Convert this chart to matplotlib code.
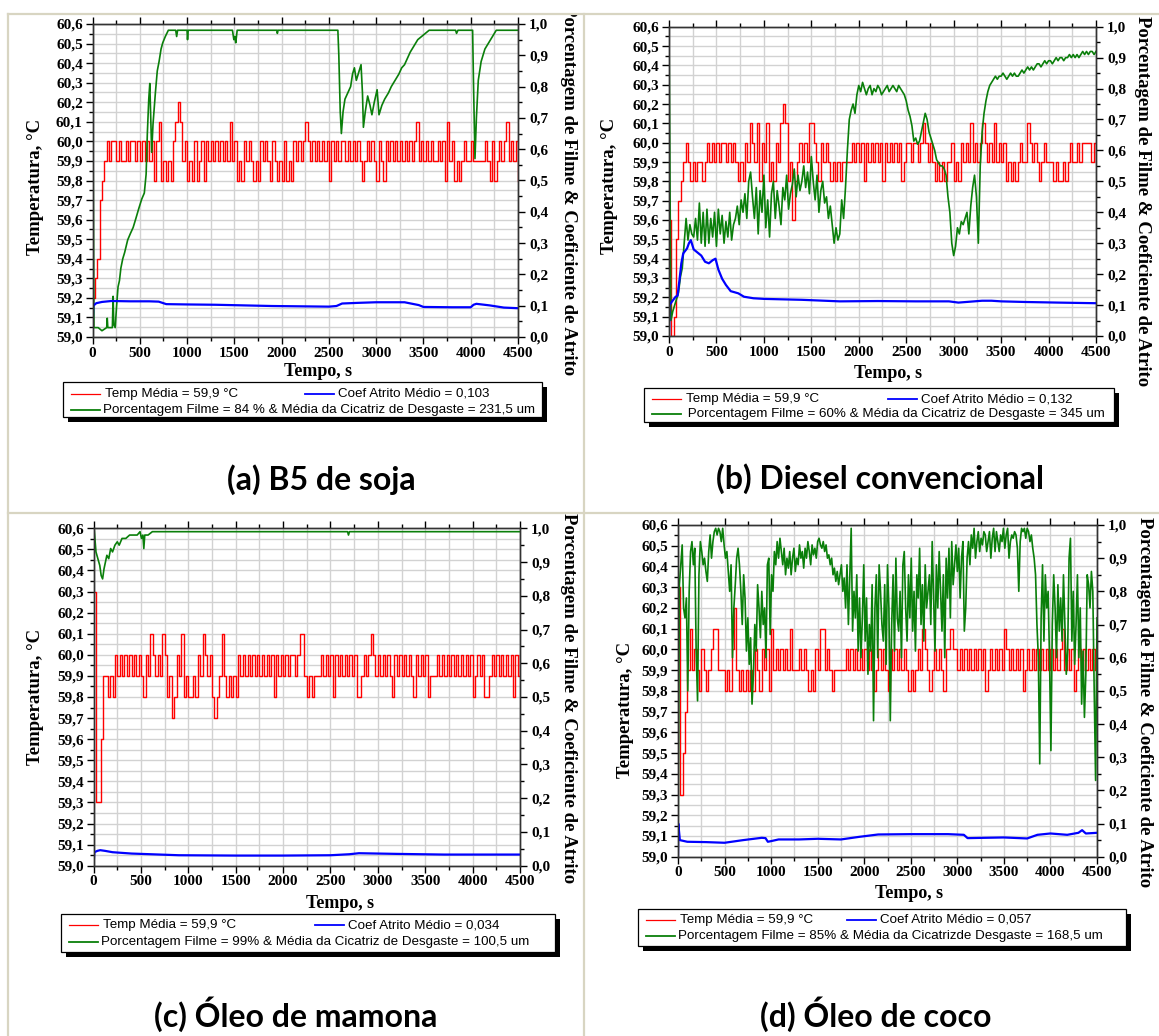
import numpy as np
import matplotlib
matplotlib.use("Agg")
import matplotlib.pyplot as plt
from matplotlib.patches import Rectangle
from matplotlib.ticker import MultipleLocator, FuncFormatter

W, H = 1159, 1036

# temperature readings every 25 s, in tenths of a degree (599 -> 59,9 C)
TEMP_STEP = 25
temp_a = [592, 593, 594, 597, 598, 599,
          600, 599, 600, 600, 599, 600, 599, 599, 600, 599, 600, 600, 599, 600, 599, 600, 599, 600, 599, 600,
          598, 600, 601, 598, 599, 598, 599, 598, 600, 601, 602, 601, 599, 600, 598, 599, 598, 600, 598, 599,
          600, 598, 600, 599, 600, 599, 600, 599, 600, 599, 600, 599, 601, 599, 600, 598, 599, 598, 600, 599,
          600, 599, 598, 599, 598, 600, 599, 600, 599, 598, 600, 599, 598, 599, 598, 600, 598, 599, 598, 600,
          599, 600, 599, 600, 601, 600, 599, 600, 599, 600, 599, 600, 599, 600, 598, 600, 599, 600, 599, 600,
          600, 599, 600, 599, 600, 599, 600, 599, 598, 599, 600, 599, 600, 599, 598, 600, 599, 598, 600, 599,
          600, 599, 600, 599, 600, 599, 600, 599, 600, 599, 600, 601, 599, 600, 599, 600, 599, 600, 599, 599,
          600, 599, 600, 598, 601, 599, 600, 598, 599, 598, 599, 600, 599, 599, 600, 599, 599, 599, 599, 599,
          600, 599, 598, 600, 598, 599, 600, 599, 600, 601, 599, 600, 599, 600, 598]
temp_b = [596, 590, 591, 595, 597, 598,
          599, 600, 599, 598, 599, 598, 599, 599, 598, 599, 600, 599, 600, 599, 600, 599, 600, 600, 599, 600,
          599, 600, 599, 598, 599, 598, 600, 599, 601, 600, 599, 601, 598, 600, 599, 601, 598, 599, 598, 600,
          599, 601, 602, 601, 598, 599, 596, 598, 599, 600, 599, 600, 599, 601, 601, 600, 599, 598, 600, 599,
          600, 599, 598, 599, 598, 599, 598, 599, 599, 599, 599, 600, 599, 600, 599, 600, 598, 600, 599, 600,
          599, 600, 599, 600, 598, 600, 599, 600, 599, 600, 599, 600, 598, 599, 600, 600, 599, 600, 600, 599,
          600, 601, 600, 599, 600, 599, 598, 599, 598, 599, 598, 599, 599, 600, 598, 599, 598, 600, 599, 600,
          599, 601, 599, 600, 599, 600, 601, 600, 599, 600, 599, 601, 599, 600, 599, 600, 598, 599, 598, 599,
          598, 599, 600, 599, 599, 601, 600, 599, 600, 599, 598, 599, 600, 599, 599, 599, 598, 599, 598, 598,
          599, 598, 599, 600, 599, 599, 600, 599, 600, 600, 600, 600, 599, 600, 599]
temp_c = [603, 593, 593, 596, 599, 599,
          598, 599, 598, 600, 599, 600, 599, 600, 599, 600, 599, 600, 599, 600, 599, 598, 600, 599, 601, 600,
          599, 600, 599, 601, 600, 598, 599, 597, 598, 600, 599, 601, 598, 599, 598, 598, 599, 598, 600, 599,
          601, 600, 599, 600, 598, 597, 598, 599, 601, 599, 598, 599, 598, 599, 598, 600, 599, 600, 599, 600,
          599, 600, 599, 600, 599, 600, 599, 600, 599, 600, 598, 600, 599, 600, 599, 600, 599, 600, 600, 599,
          600, 601, 601, 599, 598, 599, 598, 599, 599, 599, 600, 599, 600, 599, 600, 598, 600, 599, 600, 599,
          600, 599, 600, 599, 600, 598, 598, 599, 600, 599, 600, 601, 600, 599, 600, 599, 600, 599, 600, 599,
          598, 600, 599, 600, 599, 600, 599, 600, 599, 598, 600, 599, 600, 599, 600, 598, 599, 599, 599, 600,
          599, 600, 599, 600, 599, 600, 599, 600, 599, 600, 599, 600, 599, 600, 598, 599, 600, 599, 600, 598,
          598, 599, 600, 599, 600, 599, 600, 599, 600, 599, 600, 598, 600, 599, 600]
temp_d = [603, 593, 595, 597, 599, 601,
          599, 600, 599, 598, 600, 599, 598, 599, 600, 601, 601, 599, 599, 599, 598, 599, 598, 600, 602, 599,
          598, 599, 598, 599, 598, 599, 598, 600, 599, 598, 600, 599, 600, 598, 601, 599, 600, 599, 600, 599,
          600, 599, 601, 599, 599, 599, 600, 599, 600, 599, 598, 599, 598, 600, 599, 601, 601, 599, 600, 599,
          598, 599, 599, 599, 599, 599, 600, 599, 600, 599, 600, 599, 600, 599, 600, 599, 600, 599, 598, 599,
          600, 599, 600, 599, 598, 600, 599, 600, 599, 600, 599, 600, 599, 598, 599, 598, 599, 600, 599, 601,
          600, 599, 598, 599, 600, 599, 600, 599, 598, 600, 600, 601, 600, 600, 599, 600, 599, 600, 599, 600,
          599, 600, 599, 600, 599, 600, 598, 599, 600, 599, 600, 599, 600, 599, 601, 600, 599, 600, 599, 600,
          599, 600, 598, 599, 600, 599, 600, 599, 600, 599, 600, 599, 600, 599, 600, 599, 600, 599, 600, 601,
          599, 600, 599, 600, 598, 599, 600, 599, 600, 599, 600, 599, 600, 599, 599]

# film percentage (%), panels a and c read at irregular times (s)
film_a_t = [0, 15, 60, 100, 150, 156, 162, 210, 218, 225, 240, 255, 270, 285, 300, 320, 340, 372, 400, 430,
            460, 489, 520, 548, 567, 580, 595, 606, 616, 626, 640, 665, 685, 704, 725, 743, 770, 802, 880, 890,
            900, 1000, 1005, 1012, 1480, 1495, 1505, 1515, 1530, 1950, 1955, 1962, 2595, 2605, 2620, 2632, 2650,
            2670, 2700, 2730, 2750, 2770, 2790, 2810, 2840, 2855, 2865, 2885, 2910, 2935, 2955, 2980, 3010, 3030,
            3060, 3090, 3130, 3160, 3200, 3240, 3270, 3300, 3330, 3360, 3400, 3440, 3480, 3520, 3560, 3840, 3850,
            3865, 4020, 4030, 4045, 4060, 4080, 4110, 4150, 4190, 4230, 4270, 4500]
film_a = [100, 3, 3, 2, 3, 6, 3, 3, 13, 4, 3, 10, 16, 18, 22, 25, 27, 31, 33, 35,
          38, 41, 44, 46, 52, 65, 76, 81, 70, 59, 68, 78, 85, 88, 92, 94, 96, 98, 98, 96,
          98, 98, 95, 98, 98, 95, 96, 94, 98, 98, 97, 98, 98, 90, 72, 65, 72,
          76, 78, 80, 84, 86, 82, 84, 87, 78, 67, 72, 77, 74, 71, 75, 79, 71,
          74, 76, 78, 80, 82, 84, 86, 87, 89, 91, 93, 95, 96, 97, 98, 98, 97,
          98, 98, 80, 57, 70, 82, 88, 92, 94, 96, 98, 98]
film_c_t = [0, 5, 25, 45, 65, 80, 95, 110, 125, 140, 160, 180, 200, 225, 250, 270, 300, 340, 380, 420,
            460, 490, 505, 520, 530, 540, 575, 620, 680, 2680, 2690, 2700, 4500]
film_c = [99, 100, 93, 91, 89, 86, 85, 88, 90, 92, 91, 94, 93, 95, 96, 95, 97, 97, 98, 98,
          98, 99, 97, 98, 94, 98, 98, 99, 99, 99, 98, 99, 99]

# film percentage (%), panels b and d read on a regular grid
FILM_B_STEP = 20
film_b = [100, 5, 8, 10, 12, 14, 19, 22, 30, 38, 31, 36, 33, 32, 38, 31, 43, 30, 40, 29,
          41, 30, 38, 32, 40, 29, 41, 33, 39, 30, 37, 32, 40, 31, 36,
          38, 42, 36, 44, 40, 46, 38, 50, 53, 45,
          38, 48, 33, 47, 40, 52, 35, 44, 32, 46, 50, 38, 47, 42, 36, 48, 44, 52, 41, 46,
          49, 54, 45, 52, 47, 50, 55, 48, 53, 46, 58, 50, 44, 52, 40, 47, 50, 43, 45, 38,
          42, 36, 30, 35, 31, 33, 44, 38, 48, 60,
          70, 73, 75, 72, 78, 81, 79, 82, 80, 78,
          80, 81, 78, 80, 79, 81, 80, 78, 79, 80, 81, 79, 80, 81, 80, 79, 81, 80, 79, 78,
          76, 73, 71, 68, 63, 64, 62, 63, 66, 69,
          72, 70, 66, 64, 62, 60, 57, 56, 55, 55,
          54, 52, 45, 40, 30, 26, 29, 35, 33, 37,
          36, 38, 40, 33, 42, 48, 52, 45, 30, 55,
          66, 72, 76, 79, 81, 82, 83, 84, 83, 84,
          84, 85, 84, 83, 84, 85, 84, 85, 84, 84, 85, 86, 85, 86, 87, 86, 87, 86, 87, 88,
          88, 87, 88, 89, 88, 89, 89, 88, 89, 90, 89, 90, 90, 89, 90, 90, 91, 90, 91, 90,
          91, 90, 91, 92, 91, 92, 91, 92, 92, 91, 92]
FILM_D_STEP = 15
film_d = [0, 82, 88, 94, 75, 72, 78, 50, 80, 92, 95, 88, 93, 62, 47, 85, 95, 92, 88, 90,
          86, 83, 92, 97, 90, 95, 98, 99, 97, 99, 98, 95, 99, 94, 90, 92, 86, 80, 88, 60,
          75, 82, 90, 93, 88, 80, 70, 85, 78, 62, 72, 58, 66, 46, 55, 70, 62, 82, 75, 66,
          80, 70, 75, 60, 88, 90, 67, 85, 80, 92, 88, 95, 90, 96, 92, 88, 93, 85, 90, 87,
          92, 85, 90, 93, 86, 90, 88, 94, 90, 92, 87, 93, 90, 95, 92, 88, 94, 91, 93, 90,
          95, 96, 94, 93, 95, 92, 94, 90, 91, 88, 90, 85, 87, 83, 86, 82, 85, 88, 80, 84,
          75, 88, 70, 85, 99, 68, 80, 72, 85, 62, 78, 60, 72, 88, 65, 78, 55, 70, 62, 82,
          41, 75, 85, 60, 88, 80, 70, 65, 82, 58, 88, 75, 41, 70, 85, 62, 90, 72, 68, 80,
          60, 88, 92, 75, 65, 85, 72, 90, 68, 80, 62, 85, 78, 93, 70, 82, 65, 88, 75, 80,
          85, 70, 95, 78, 62, 88, 75, 92, 80, 68, 85, 60, 90, 78, 93, 72, 95, 82, 88, 94,
          86, 93, 78, 90, 95, 68, 75, 90, 95, 88, 97, 93, 99, 90, 95, 98, 92, 96, 94, 98,
          97, 92, 95, 98, 90, 96, 99, 92, 98, 95, 92, 97, 95, 99, 93, 97, 99, 90, 95, 97,
          96, 98, 97, 93, 80, 95, 99, 98, 99, 96, 99, 98, 95, 97, 93, 90, 85, 70, 60, 28,
          72, 88, 65, 85, 75, 80, 60, 32, 70, 85, 75, 60, 82, 68, 78, 65, 85, 70, 55, 62,
          90, 96, 65, 80, 58, 70, 85, 60, 75, 46, 62, 42, 55, 85, 82, 75, 86, 80, 50, 23,
          72]

# friction coefficient
cof_a_t = [0, 8, 40, 100, 200, 400, 600, 700, 780, 1000, 1300, 1600, 1900, 2200, 2500, 2580, 2640, 2800,
           3000, 3300, 3450, 3500, 3800, 4000, 4030, 4060, 4200, 4350, 4500]
cof_a = [0.01, 0.10, 0.108, 0.112, 0.115, 0.114, 0.114, 0.113, 0.105, 0.104, 0.103, 0.101, 0.099, 0.098,
         0.097, 0.099, 0.107, 0.109, 0.111, 0.111, 0.102, 0.096, 0.095, 0.095, 0.103, 0.106, 0.101, 0.094, 0.092]
cof_b_t = [0, 5, 40, 70, 90, 110, 130, 150, 190, 210, 230, 260, 300, 340, 380, 420, 460, 490, 520, 560,
           600, 650, 730, 790, 890, 1000, 1400, 1800, 2200, 2600, 2950, 3050, 3300, 3400, 3500, 3750, 4100, 4500]
cof_b = [0.0, 0.10, 0.115, 0.127, 0.13, 0.18, 0.235, 0.267, 0.283, 0.30, 0.31, 0.28, 0.27, 0.26, 0.24,
         0.235, 0.245, 0.25, 0.215, 0.185, 0.165, 0.145, 0.138, 0.127, 0.122, 0.12, 0.117, 0.112, 0.113,
         0.112, 0.112, 0.108, 0.114, 0.114, 0.112, 0.11, 0.108, 0.106]
cof_c_t = [0, 8, 40, 70, 120, 200, 400, 600, 900, 1500, 2000, 2500, 2700, 2800, 3000, 3200, 3700, 4500]
cof_c = [0.005, 0.04, 0.044, 0.046, 0.044, 0.04, 0.036, 0.034, 0.031, 0.03, 0.03, 0.031, 0.034, 0.037,
         0.036, 0.035, 0.033, 0.033]
cof_d_t = [0, 3, 20, 100, 300, 500, 600, 700, 900, 940, 965, 1000, 1080, 1300, 1500, 1750, 1950, 2150,
           2500, 2900, 3070, 3110, 3300, 3500, 3750, 3860, 4000, 4180, 4300, 4340, 4380, 4500]
cof_d = [0.005, 0.10, 0.05, 0.045, 0.044, 0.042, 0.046, 0.05, 0.057, 0.056, 0.045, 0.047, 0.052, 0.052,
         0.054, 0.052, 0.06, 0.067, 0.068, 0.068, 0.066, 0.056, 0.057, 0.058, 0.055, 0.066, 0.07, 0.066,
         0.072, 0.08, 0.07, 0.072]

legend_a = ["Temp Média = 59,9 °C", "Coef Atrito Médio = 0,103",
            "Porcentagem Filme = 84 % & Média da Cicatriz de Desgaste = 231,5 um"]
legend_b = ["Temp Média = 59,9 °C", "Coef Atrito Médio = 0,132",
            " Porcentagem Filme = 60% & Média da Cicatriz de Desgaste = 345 um"]
legend_c = ["Temp Média = 59,9 °C", "Coef Atrito Médio = 0,034",
            "Porcentagem Filme = 99% & Média da Cicatriz de Desgaste = 100,5 um"]
legend_d = ["Temp Média = 59,9 °C", "Coef Atrito Médio = 0,057",
            "Porcentagem Filme = 85% & Média da Cicatrizde Desgaste = 168,5 um"]
captions = ["(a) B5 de soja", "(b) Diesel convencional", "(c) Óleo de mamona", "(d) Óleo de coco"]

SERIF = "Liberation Serif"
SANS = "Liberation Sans"
RED, BLUE, GREEN = "#ff0000", "#0000ff", "#0a7f0a"
BORDER = "#d8d5c2"


def comma(v, pos):
    return f"{v:.1f}".replace(".", ",")


fig = plt.figure(figsize=(W / 100, H / 100), dpi=100)
ov = fig.add_axes([0, 0, 1, 1])
ov.set_xlim(0, W)
ov.set_ylim(H, 0)
ov.axis("off")
ov.set_zorder(10)


def panel(box, temp, film_t, film, cof_t, cof, ylab, y2lab, xlab):
    l, r, t, b = box
    ax = fig.add_axes([l / W, 1 - b / H, (r - l) / W, (b - t) / H])
    ax.set_xlim(0, 4500)
    ax.set_ylim(59.0, 60.6)
    ax.xaxis.set_major_locator(MultipleLocator(500))
    ax.xaxis.set_minor_locator(MultipleLocator(250))
    ax.yaxis.set_major_locator(MultipleLocator(0.1))
    ax.yaxis.set_minor_locator(MultipleLocator(0.05))
    ax.yaxis.set_major_formatter(FuncFormatter(comma))
    ax.grid(which="both", color="#d2d2d2", lw=1.0)
    ax.set_axisbelow(True)
    ax.tick_params(which="both", direction="out", top=True, width=1, labelsize=11)
    ax.tick_params(which="major", length=5)
    ax.tick_params(which="minor", length=3)
    ax.tick_params(axis="y", pad=2)
    ax.tick_params(axis="x", pad=2)

    tt = np.arange(len(temp)) * TEMP_STEP
    ax.step(tt, np.array(temp) / 10.0, where="post", color=RED, lw=1.0)

    ax2 = ax.twinx()
    ax2.set_ylim(0, 1)
    ax2.yaxis.set_major_locator(MultipleLocator(0.1))
    ax2.yaxis.set_minor_locator(MultipleLocator(0.05))
    ax2.yaxis.set_major_formatter(FuncFormatter(comma))
    ax2.tick_params(which="both", direction="out", width=1, labelsize=11, pad=3)
    ax2.tick_params(which="major", length=5)
    ax2.tick_params(which="minor", length=3)
    ax2.plot(film_t, np.array(film) / 100.0, color=GREEN, lw=1.2)
    ax2.plot(cof_t, cof, color=BLUE, lw=1.6)

    for a in (ax, ax2):
        for sp in a.spines.values():
            sp.set_linewidth(1.0)
            sp.set_color("#333333")
        for lab in a.get_xticklabels() + a.get_yticklabels():
            lab.set_fontfamily(SERIF)
            lab.set_fontweight("bold")

    ov.text(ylab[0], ylab[1], "Temperatura, °C", rotation=90, ha="center", va="center",
            family=SERIF, weight="bold", fontsize=13.5)
    ov.text(y2lab[0], y2lab[1], "Porcentagem de Filme & Coeficiente de Atrito", rotation=-90,
            ha="center", va="center", family=SERIF, weight="bold", fontsize=13.5)
    ov.text(xlab[0], xlab[1], "Tempo, s", ha="center", va="center", family=SERIF, weight="bold",
            fontsize=13)


def legend(box, rows, texts, blue_x):
    x0, y0, x1, y1 = box
    ov.add_patch(Rectangle((x0 + 5, y0 + 5), x1 - x0, y1 - y0, facecolor="black", edgecolor="none"))
    ov.add_patch(Rectangle((x0, y0), x1 - x0, y1 - y0, facecolor="white", edgecolor="black", lw=0.9))
    lx0, lx1 = x0 + 8, x0 + 37
    ov.plot([lx0, lx1], [rows[0], rows[0]], color=RED, lw=0.9)
    ov.text(lx1 + 5, rows[0], texts[0], va="center", ha="left", family=SANS, fontsize=9.6)
    ov.plot([blue_x, blue_x + 29], [rows[0], rows[0]], color=BLUE, lw=1.3)
    ov.text(blue_x + 33, rows[0], texts[1], va="center", ha="left", family=SANS, fontsize=9.6)
    ov.plot([lx0, lx1], [rows[1], rows[1]], color=GREEN, lw=1.3)
    ov.text(lx1 + 3, rows[1], texts[2], va="center", ha="left", family=SANS, fontsize=9.6)


panel((92.5, 518, 24, 337), temp_a, film_a_t, film_a, cof_a_t, cof_a, (35, 187), (568, 190), (318, 372))
panel((669, 1096, 26.7, 336), temp_b, np.arange(len(film_b)) * FILM_B_STEP, film_b, cof_b_t, cof_b,
      (609, 186), (1143, 201), (888, 373))
panel((93.6, 520, 528.3, 865.7), temp_c, film_c_t, film_c, cof_c_t, cof_c, (36, 697), (568, 698), (340, 903))
panel((678, 1097, 525, 856.7), temp_d, np.arange(len(film_d)) * FILM_D_STEP, film_d, cof_d_t, cof_d,
      (625, 710), (1144, 702), (909, 893))

legend((63, 382, 542, 417), (394, 410), legend_a, 305)
legend((644, 388, 1114, 422), (399, 414), legend_b, 888)
legend((61, 914, 555, 952), (925, 942), legend_c, 315)
legend((638, 909, 1126, 946), (920, 936), legend_d, 847)

for (cx, cy), cap in zip([(321, 480), (880, 479), (296, 1014), (876, 1014)], captions):
    ov.text(cx, cy, cap, ha="center", va="center", family="Lato", weight="bold", fontsize=23)

# page clipped the top of panel (a)'s right label
ov.add_patch(Rectangle((545, 0), 45, 13, facecolor="white", edgecolor="none", zorder=6))

# table cell borders
ov.plot([7.5, 7.5], [14, H], color=BORDER, lw=1.6, zorder=7)
ov.plot([584, 584], [14, H], color=BORDER, lw=1.6, zorder=7)
ov.plot([7.5, W], [14, 14], color=BORDER, lw=1.6, zorder=7)
ov.plot([7.5, W], [513, 513], color=BORDER, lw=1.6, zorder=7)

fig.savefig("out.png", dpi=100)
